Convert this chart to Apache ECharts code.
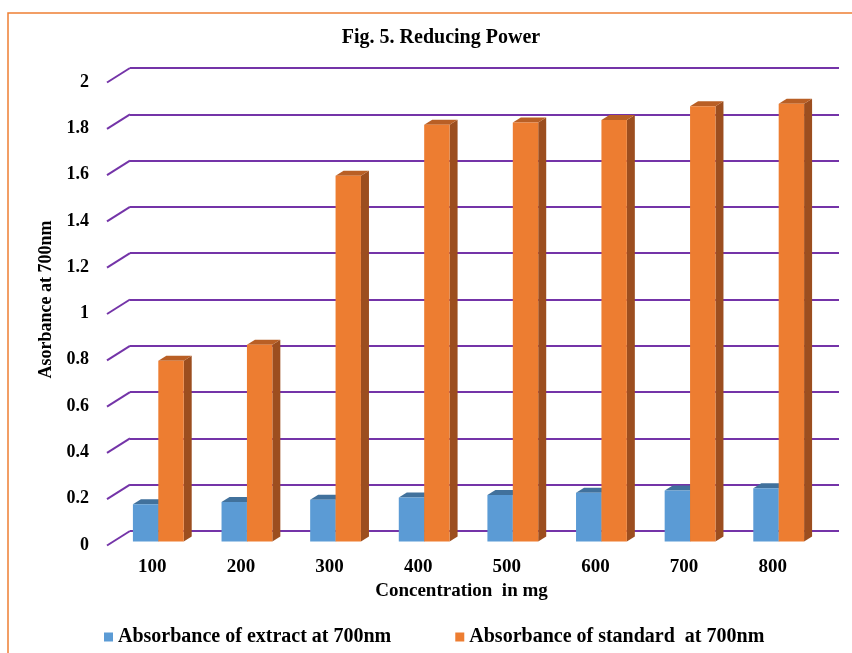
<!DOCTYPE html>
<html>
<head>
<meta charset="utf-8">
<script src="https://cdn.jsdelivr.net/npm/echarts@6/dist/echarts.min.js"></script>
<style>
  html, body { margin: 0; padding: 0; background: #fff; }
  #chart { width: 852px; height: 653px; }
</style>
</head>
<body>
<div id="chart"></div>
<script>
var categories = ['100', '200', '300', '400', '500', '600', '700', '800'];
var extractValues = [0.16, 0.17, 0.18, 0.19, 0.20, 0.21, 0.22, 0.23];
var standardValues = [0.78, 0.85, 1.58, 1.80, 1.81, 1.82, 1.88, 1.89];
var yTickValues = [0, 0.2, 0.4, 0.6, 0.8, 1, 1.2, 1.4, 1.6, 1.8, 2];
var yTickLabels = ['0', '0.2', '0.4', '0.6', '0.8', '1', '1.2', '1.4', '1.6', '1.8', '2'];

var serif = "'Liberation Serif', 'Times New Roman', serif";
var purple = '#7434A8';

var chartDom = document.getElementById('chart');
var myChart = echarts.init(chartDom);
var option;

// 3d-looking box, front face sits a bit in front of the back wall
function boxRenderer(slot, front, top, side) {
    return function (params, api) {
        var p = api.coord([api.value(0), api.value(1)]);
        var base = api.coord([api.value(0), 0]);
        var w = 25.4, dx = 8, dy = 5, shiftX = -16, shiftY = 10.4;
        var xL = p[0] + shiftX - w * (1 - slot);
        var yT = p[1] + shiftY;
        var yB = base[1] + shiftY;
        return {
            type: 'group',
            children: [
                {
                    type: 'polygon',
                    shape: { points: [[xL + w, yT], [xL + w + dx, yT - dy], [xL + w + dx, yB - dy], [xL + w, yB]] },
                    style: { fill: side }
                },
                {
                    type: 'polygon',
                    shape: { points: [[xL, yT], [xL + dx, yT - dy], [xL + w + dx, yT - dy], [xL + w, yT]] },
                    style: { fill: top }
                },
                {
                    type: 'rect',
                    shape: { x: xL, y: yT, width: w, height: yB - yT },
                    style: { fill: front }
                }
            ]
        };
    };
}

option = {
    animation: false,
    title: {
        text: 'Fig. 5. Reducing Power',
        left: 436,
        top: 23,
        textAlign: 'center',
        textStyle: { fontFamily: serif, fontSize: 20, fontWeight: 'bold', color: '#000' }
    },
    grid: {
        left: 130,
        right: 13,
        top: 68,
        bottom: 122
    },
    legend: {
        data: ['Absorbance of extract at 700nm', 'Absorbance of standard  at 700nm'],
        left: 99,
        top: 622,
        icon: 'rect',
        itemWidth: 9,
        itemHeight: 9,
        itemGap: 64,
        textStyle: { fontFamily: serif, fontSize: 20, fontWeight: 'bold', color: '#000' }
    },
    graphic: [
        {
            type: 'rect',
            shape: { x: 8, y: 13, width: 900, height: 700 },
            style: { fill: 'none', stroke: '#EE7F33', lineWidth: 1.5 },
            silent: true
        }
    ],
    xAxis: {
        type: 'category',
        data: categories,
        name: 'Concentration  in mg',
        nameLocation: 'middle',
        nameGap: 50,
        nameTextStyle: { fontFamily: serif, fontSize: 19, fontWeight: 'bold', color: '#000', padding: [0, 46, 0, 0] },
        axisLine: { show: false },
        axisTick: { show: false },
        axisLabel: {
            margin: 27,
            padding: [0, 44, 0, 0],
            fontFamily: serif,
            fontSize: 19,
            fontWeight: 'bold',
            color: '#000'
        }
    },
    yAxis: {
        type: 'value',
        min: 0,
        max: 2,
        interval: 0.2,
        name: 'Asorbance at 700nm',
        nameLocation: 'middle',
        nameRotate: 90,
        nameGap: 74,
        nameTextStyle: { fontFamily: serif, fontSize: 18, fontWeight: 'bold', color: '#000' },
        axisLine: { show: false },
        axisTick: { show: false },
        splitLine: { lineStyle: { color: purple, width: 2 } },
        axisLabel: {
            margin: 41,
            verticalAlign: 'top',
            lineHeight: 28,
            fontFamily: serif,
            fontSize: 18,
            fontWeight: 'bold',
            color: '#000',
            formatter: function (v) {
                return yTickLabels[Math.round(v / 0.2)];
            }
        }
    },
    series: [
        {
            // slanted floor/side lines from back wall to the front
            type: 'custom',
            silent: true,
            data: yTickValues.map(function (v) { return [0, v]; }),
            renderItem: function (params, api) {
                var y = api.coord([0, api.value(1)])[1];
                var x = params.coordSys.x;
                return {
                    type: 'line',
                    shape: { x1: x, y1: y, x2: x - 23, y2: y + 14.5 },
                    style: { stroke: purple, lineWidth: 2 }
                };
            },
            z: 1
        },
        {
            name: 'Absorbance of extract at 700nm',
            type: 'custom',
            itemStyle: { color: '#5B9BD5' },
            data: extractValues.map(function (v, i) { return [i, v]; }),
            renderItem: boxRenderer(0, '#5B9BD5', '#41719C', '#3E6E9A'),
            z: 2
        },
        {
            name: 'Absorbance of standard  at 700nm',
            type: 'custom',
            itemStyle: { color: '#ED7D31' },
            data: standardValues.map(function (v, i) { return [i, v]; }),
            renderItem: boxRenderer(1, '#ED7D31', '#B95F25', '#9C4E1F'),
            z: 3
        }
    ]
};

option && myChart.setOption(option);
window.addEventListener('resize', function () {
    myChart.resize();
});
</script>
</body>
</html>
